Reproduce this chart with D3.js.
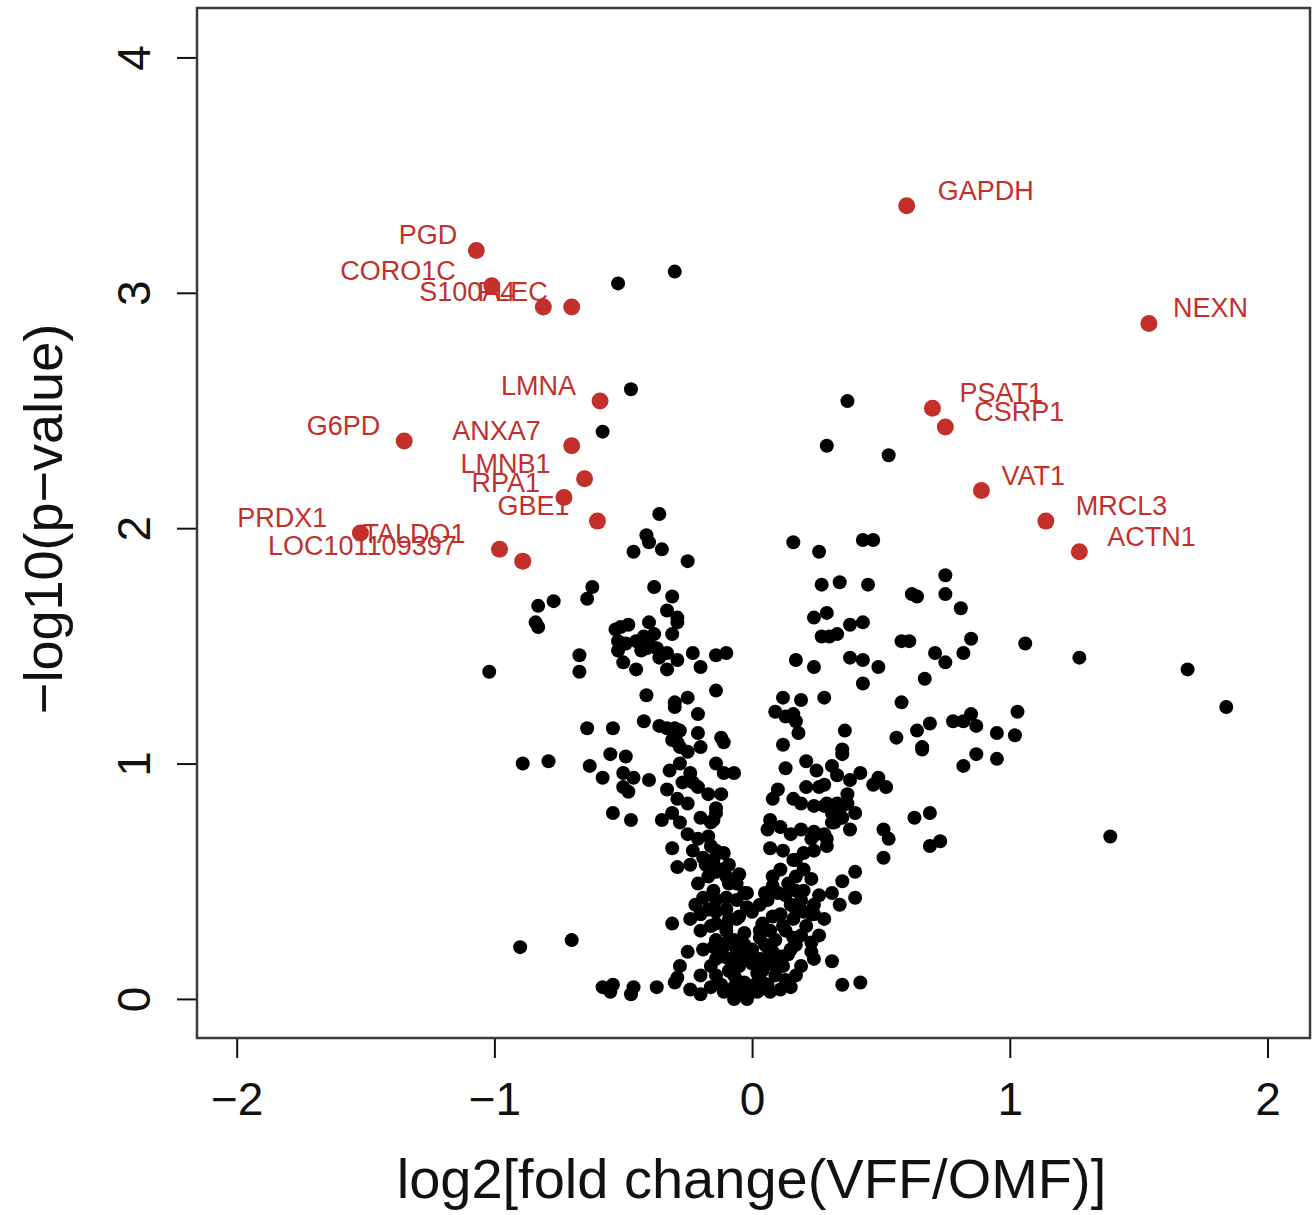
<!DOCTYPE html>
<html lang="en">
<head>
    <meta charset="utf-8">
    <title>Volcano plot - VFF vs OMF</title>
    <style>
        body { margin: 0; background: #fff; }
        svg text { font-family: "Liberation Sans", Arial, Helvetica, sans-serif; }
    </style>
</head>
<body>

<script src="https://cdn.jsdelivr.net/npm/d3@7/dist/d3.min.js"></script>
<script>
    // labelled proteins (red)
    var genes  = ["PGD", "CORO1C", "S100A4", "PLEC", "GAPDH", "NEXN", "LMNA", "G6PD", "ANXA7", "LMNB1",
                  "RPA1", "GBE1", "PRDX1", "TALDO1", "LOC101109397", "PSAT1", "CSRP1", "VAT1", "MRCL3", "ACTN1"];
    var geneFC = [-1.07, -1.01, -0.81, -0.70, 0.60, 1.54, -0.59, -1.35, -0.70, -0.65,
                  -0.73, -0.60, -1.52, -0.98, -0.89, 0.70, 0.75, 0.89, 1.14, 1.27];
    var geneP  = [3.18, 3.03, 2.94, 2.94, 3.37, 2.87, 2.54, 2.37, 2.35, 2.21,
                  2.13, 2.03, 1.98, 1.91, 1.86, 2.51, 2.43, 2.16, 2.03, 1.90];

    // all other proteins (black): [log2 fold change, -log10 p]
    var others = [
        [-0.52,3.04],[-0.30,3.09],[-0.47,2.59],[-0.58,2.41],[0.37,2.54],[0.29,2.35],[0.53,2.31],
        [-1.02,1.39],[-0.89,1.00],[-0.79,1.01],[-0.90,0.22],[-0.70,0.25],
        [-0.36,2.06],[-0.41,1.97],[-0.40,1.94],[-0.46,1.90],[-0.35,1.91],[-0.25,1.86],
        [-0.62,1.75],[-0.64,1.70],[-0.38,1.75],[-0.31,1.71],[-0.83,1.67],[-0.77,1.69],[-0.84,1.60],[-0.83,1.58],
        [-0.33,1.65],[-0.29,1.62],[-0.29,1.60],[-0.31,1.55],[-0.40,1.60],[-0.48,1.59],[-0.53,1.57],[-0.52,1.52],
        [-0.52,1.48],[-0.49,1.51],[-0.45,1.52],[-0.42,1.54],[-0.40,1.51],[-0.37,1.49],[-0.38,1.55],[-0.41,1.49],
        [-0.36,1.45],[-0.43,1.48],[-0.51,1.58],[-0.33,1.47],[-0.67,1.46],[-0.67,1.39],[-0.50,1.43],[-0.45,1.40],
        [-0.33,1.40],[-0.29,1.44],[-0.23,1.47],[-0.20,1.41],[-0.14,1.46],[-0.10,1.47],[-0.14,1.31],[-0.41,1.29],
        [-0.30,1.26],[-0.30,1.24],[-0.25,1.28],[-0.21,1.21],[-0.42,1.18],[-0.36,1.16],[-0.33,1.15],[-0.30,1.15],
        [-0.28,1.14],[-0.64,1.15],[-0.54,1.15],[-0.21,1.13],[-0.12,1.11],[-0.31,1.10],[-0.28,1.07],[-0.25,1.05],
        [-0.20,1.07],[-0.55,1.04],[-0.49,1.03],[-0.63,0.99],[-0.58,0.94],[-0.50,0.96],[-0.46,0.94],[-0.50,0.90],
        [-0.48,0.88],[-0.40,0.93],[-0.54,0.79],[-0.47,0.76],[-0.29,1.09],[-0.32,0.97],[-0.28,1.00],[-0.24,0.96],
        [-0.21,0.90],[-0.33,0.89],[-0.29,0.85],[-0.25,0.83],[-0.17,0.87],[-0.12,0.87],[-0.11,0.96],[-0.14,1.00],
        [-0.07,0.96],[-0.11,1.09],[-0.23,0.92],[-0.27,0.92],
        [-0.35,0.76],[-0.31,0.79],[-0.28,0.75],[-0.25,0.70],[-0.21,0.68],[-0.17,0.69],[-0.16,0.75],[-0.14,0.79],
        [-0.20,0.77],[-0.15,0.76],[-0.14,0.81],[-0.31,0.64],[-0.29,0.56],[-0.23,0.63],[-0.19,0.60],[-0.14,0.63],
        [-0.11,0.62],[-0.15,0.59],[-0.16,0.65],[-0.21,0.49],[-0.17,0.52],[-0.14,0.54],[-0.10,0.52],[-0.06,0.49],
        [-0.02,0.45],[-0.09,0.49],[-0.19,0.43],[-0.14,0.42],[-0.10,0.43],[-0.06,0.42],[-0.02,0.39],[0.00,0.37],
        [-0.15,0.46],[-0.03,0.45],[-0.17,0.38],[-0.14,0.37],[-0.10,0.38],[-0.14,0.32],[-0.10,0.31],[-0.06,0.34],
        [-0.03,0.28],[-0.05,0.35],[-0.31,0.32],[-0.19,0.21],[-0.15,0.22],[-0.10,0.24],[-0.06,0.21],[-0.11,0.18],
        [-0.07,0.15],[-0.14,0.17],[-0.02,0.18],[-0.05,0.14],[-0.09,0.12],[-0.25,0.20],[-0.28,0.14],[-0.29,0.09],
        [-0.30,0.07],[-0.16,0.05],[-0.12,0.06],[-0.07,0.05],[-0.03,0.07],[0.00,0.03],[-0.02,0.00],[-0.07,0.00],
        [-0.11,0.03],[-0.06,0.08],[0.03,0.04],[0.02,0.03],[0.04,0.07],[-0.02,0.01],
        [-0.58,0.05],[-0.54,0.06],[-0.55,0.03],[-0.46,0.05],[-0.47,0.02],[-0.37,0.05],
        [-0.03,0.17],[0.01,0.06],[0.03,0.17],[0.05,0.23],[0.07,0.29],[0.09,0.25],[0.13,0.29],[0.11,0.36],
        [0.15,0.40],[0.19,0.42],[0.17,0.46],[-0.04,0.04],[-0.07,0.10],[-0.09,0.17],[-0.10,0.23],[-0.14,0.25],
        [-0.16,0.31],[-0.20,0.36],[-0.22,0.40],[-0.03,0.23],[0.06,0.06],[0.09,0.10],[0.12,0.14],[0.14,0.19],
        [0.17,0.23],[0.19,0.27],[0.21,0.31],[0.23,0.36],[0.24,0.40],[0.26,0.44],[0.23,0.51],[0.20,0.55],[0.17,0.59],
        [0.03,0.40],[0.05,0.45],[0.08,0.48],[0.13,0.44],[0.05,0.17],[0.09,0.14],[0.13,0.08],[0.07,0.03],
        [-0.05,0.19],[-0.07,0.25],[-0.12,0.21],[-0.16,0.14],[-0.20,0.10],[-0.14,0.10],[-0.24,0.04],[-0.20,0.02],
        [-0.10,0.29],[-0.09,0.34],[-0.20,0.29],[-0.24,0.34],[0.03,0.29],[0.17,0.38],[0.28,0.34],[0.26,0.27],
        [0.24,0.17],[0.19,0.14],[0.17,0.10],[0.11,0.04],[0.15,0.05],[-0.12,0.55],[-0.09,0.57],[-0.05,0.53],
        [-0.18,0.57],[-0.24,0.57],
        [0.08,0.85],[0.10,0.89],[0.16,0.85],[0.13,0.98],[0.07,0.76],[0.06,0.72],[0.07,0.64],[0.11,0.73],
        [0.15,0.70],[0.19,0.72],[0.23,0.68],[0.25,0.70],[0.29,0.68],[0.31,0.75],[0.34,0.77],[0.21,0.90],
        [0.26,0.90],[0.29,0.83],[0.24,0.82],[0.19,0.83],[0.35,0.82],[0.12,0.63],[0.16,0.59],[0.11,0.55],
        [0.08,0.52],[0.14,0.49],[0.10,0.45],[0.06,0.42],[0.17,0.52],[0.20,0.46],[0.31,0.45],[0.35,0.50],
        [0.34,0.40],[0.20,0.37],[0.24,0.36],[0.16,0.34],[0.12,0.31],[0.08,0.35],[0.40,0.54],[0.40,0.43],
        [0.04,0.32],[0.03,0.26],[0.06,0.22],[0.08,0.20],[0.11,0.18],[0.15,0.21],[0.16,0.26],[0.23,0.24],
        [0.23,0.20],[0.00,0.21],[0.00,0.15],[0.02,0.11],[0.04,0.12],[0.07,0.15],[0.31,0.16],[0.35,0.06],[0.42,0.07],
        [0.21,1.01],[0.25,0.97],[0.31,0.99],[0.35,1.04],[0.42,0.96],[0.38,0.93],[0.49,0.94],[0.52,0.90],
        [0.47,0.91],[0.28,0.91],[0.33,0.95],[0.37,0.87],[0.28,0.82],[0.33,0.83],[0.37,0.83],[0.40,0.79],
        [0.31,0.79],[0.35,0.77],[0.32,0.75],[0.38,0.72],[0.24,0.71],[0.28,0.70],[0.29,0.65],[0.24,0.63],
        [0.20,0.62],[0.51,0.72],[0.53,0.68],[0.51,0.60],[0.63,0.77],[0.69,0.79],[0.69,0.65],[0.73,0.67],
        [0.66,1.06],[0.82,0.99],[0.87,1.04],[0.95,1.02],[1.39,0.69],
        [0.16,1.94],[0.26,1.90],[0.43,1.95],[0.47,1.95],[0.27,1.76],[0.34,1.77],[0.45,1.76],[0.62,1.72],
        [0.64,1.71],[0.75,1.80],[0.75,1.72],[0.81,1.66],[0.24,1.62],[0.29,1.64],[0.27,1.54],[0.30,1.54],
        [0.33,1.55],[0.38,1.59],[0.43,1.60],[0.58,1.52],[0.61,1.52],[0.71,1.47],[0.75,1.43],[0.67,1.36],
        [0.85,1.53],[0.82,1.47],[0.58,1.26],[1.06,1.51],[1.27,1.45],[1.69,1.40],[1.84,1.24],
        [0.17,1.44],[0.24,1.41],[0.38,1.45],[0.43,1.44],[0.49,1.41],[0.43,1.34],[0.12,1.28],[0.19,1.27],
        [0.28,1.28],[0.09,1.22],[0.13,1.20],[0.16,1.21],[0.17,1.18],[0.18,1.13],[0.12,1.08],[0.36,1.14],
        [0.35,1.06],[0.56,1.11],[0.64,1.14],[0.69,1.17],[0.66,1.07],[0.78,1.18],[0.85,1.21],[0.87,1.16],
        [0.82,1.18],[0.95,1.13],[1.02,1.12],[1.03,1.22]
    ];

    var xTicks = [-2, -1, 0, 1, 2];
    var yTicks = [0, 1, 2, 3, 4];
    var xTitle = "log2[fold change(VFF/OMF)]";
    var yTitle = "\u2212log10(p\u2212value)";

    function main() {
        var width = 1316,
            height = 1215;
        var box = {left: 197, right: 1310, top: 8, bottom: 1038};
        var red = "#c3302c";
        var fmt = function (d) { return String(d).replace("-", "\u2212"); };

        // how far (px) each label sits from its point, horizontally
        var labelGap = {PGD: 19, CORO1C: 36, S100A4: 28, PLEC: 24, GAPDH: 31, NEXN: 24, LMNA: 24,
                        G6PD: 24, ANXA7: 31, LMNB1: 34, RPA1: 24, GBE1: 28, PRDX1: 33, TALDO1: 34,
                        LOC101109397: 66, PSAT1: 27, CSRP1: 29, VAT1: 20, MRCL3: 30, ACTN1: 28};

        var svg = d3.select("body").append("svg")
            .attr("width", width)
            .attr("height", height);

        // R pads the data range by 4% on each side
        var x = d3.scaleLinear().domain([-2.154, 2.165]).range([box.left, box.right]);
        var y = d3.scaleLinear().domain([-0.166, 4.21]).range([box.bottom, box.top]);

        // x axis
        var gx = svg.append("g")
            .attr("transform", "translate(0," + box.bottom + ")")
            .call(d3.axisBottom(x).tickValues(xTicks).tickSize(20).tickPadding(24).tickFormat(fmt));
        gx.select(".domain").remove();
        gx.selectAll(".tick line").attr("stroke", "#111").attr("stroke-width", 2);
        gx.selectAll(".tick text").attr("font-size", 46).attr("fill", "#111")
            .style("font-family", "'Liberation Sans', Arial, sans-serif");

        // y axis, labels parallel to the axis like R's default
        var gy = svg.append("g")
            .attr("transform", "translate(" + box.left + ",0)")
            .call(d3.axisLeft(y).tickValues(yTicks).tickSize(20).tickFormat(fmt));
        gy.select(".domain").remove();
        gy.selectAll(".tick line").attr("stroke", "#111").attr("stroke-width", 2);
        gy.selectAll(".tick text")
            .attr("x", 0).attr("dy", null)
            .attr("text-anchor", "middle")
            .attr("transform", "translate(-47,0) rotate(-90)")
            .attr("font-size", 46).attr("fill", "#111")
            .style("font-family", "'Liberation Sans', Arial, sans-serif");

        // plot frame
        svg.append("rect")
            .attr("x", box.left).attr("y", box.top)
            .attr("width", box.right - box.left).attr("height", box.bottom - box.top)
            .attr("fill", "none").attr("stroke", "#3a3a3a").attr("stroke-width", 2.5);

        // axis titles
        svg.append("text")
            .attr("x", (box.left + box.right) / 2 - 2).attr("y", 1198)
            .attr("text-anchor", "middle").attr("font-size", 56).attr("fill", "#111")
            .text(xTitle);
        svg.append("text")
            .attr("transform", "translate(62," + ((box.top + box.bottom) / 2 - 4) + ") rotate(-90)")
            .attr("text-anchor", "middle").attr("font-size", 54).attr("fill", "#111")
            .text(yTitle);

        // background proteins
        svg.append("g").selectAll("circle")
            .data(others).enter().append("circle")
            .attr("cx", function (d) { return x(d[0]); })
            .attr("cy", function (d) { return y(d[1]); })
            .attr("r", 7)
            .attr("fill", "#000");

        var sig = genes.map(function (g, i) { return {name: g, fc: geneFC[i], p: geneP[i]}; });

        svg.append("g").selectAll("circle")
            .data(sig).enter().append("circle")
            .attr("cx", function (d) { return x(d.fc); })
            .attr("cy", function (d) { return y(d.p); })
            .attr("r", 8.5)
            .attr("fill", red);

        svg.append("g").selectAll("text")
            .data(sig).enter().append("text")
            .attr("x", function (d) {
                var gap = labelGap[d.name];
                return d.fc < 0 ? x(d.fc) - gap : x(d.fc) + gap;
            })
            .attr("y", function (d) { return y(d.p) - 6; })
            .attr("text-anchor", function (d) { return d.fc < 0 ? "end" : "start"; })
            .attr("font-size", 27)
            .attr("fill", red)
            .text(function (d) { return d.name; });
    }

    window.onload = function () {
        main();
    };
</script>
</body>
</html>
